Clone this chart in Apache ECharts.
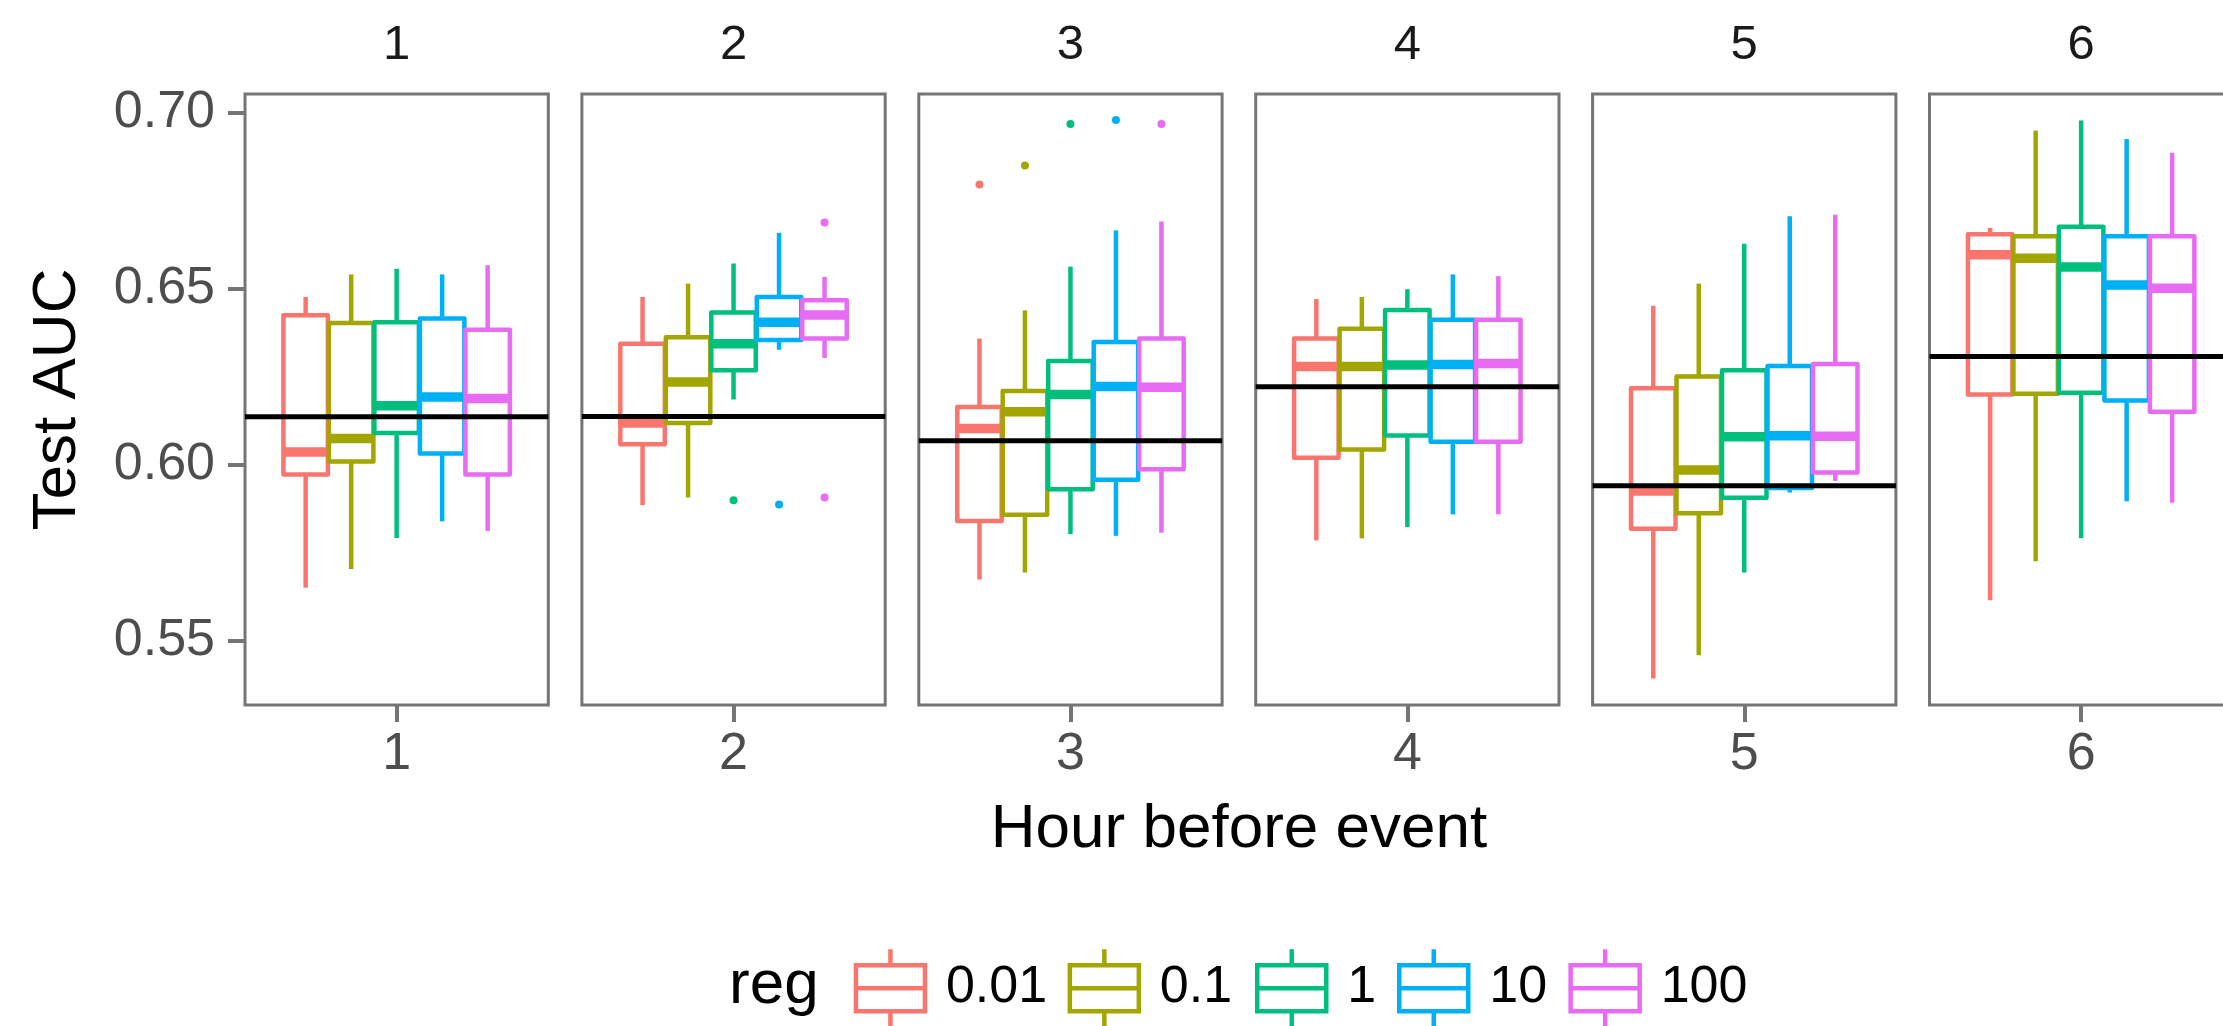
<!DOCTYPE html>
<html>
<head>
<meta charset="utf-8">
<script src="https://cdn.jsdelivr.net/npm/echarts@6/dist/echarts.min.js"></script>
<style>
  html, body { margin: 0; padding: 0; background: #ffffff; }
  #chart { width: 2223px; height: 1026px; }
</style>
</head>
<body>
<div id="chart"></div>
<script>
// ---------------- data ----------------
const hours = ['1', '2', '3', '4', '5', '6'];
const regs = ['0.01', '0.1', '1', '10', '100'];
const regColors = ['#F8766D', '#A3A500', '#00BF7D', '#00B0F6', '#E76BF3'];
const yTicks = [0.55, 0.60, 0.65, 0.70];

// rows = hour before event, columns = reg
const lowerWhisker = [
  [0.5651, 0.5704, 0.5792, 0.5839, 0.5812],
  [0.5885, 0.5907, 0.6185, 0.6326, 0.6303],
  [0.5674, 0.5694, 0.5803, 0.5798, 0.5807],
  [0.5785, 0.5791, 0.5823, 0.5859, 0.5859],
  [0.5393, 0.5459, 0.5694, 0.5921, 0.5954],
  [0.5615, 0.5726, 0.5791, 0.5896, 0.5892]
];
const lowerHinge = [
  [0.5972, 0.6009, 0.6090, 0.6032, 0.5972],
  [0.6058, 0.6118, 0.6268, 0.6354, 0.6358],
  [0.5840, 0.5858, 0.5930, 0.5957, 0.5987],
  [0.6020, 0.6043, 0.6083, 0.6065, 0.6065],
  [0.5818, 0.5862, 0.5906, 0.5934, 0.5978],
  [0.6199, 0.6201, 0.6204, 0.6182, 0.6150]
];
const medians = [
  [0.6036, 0.6074, 0.6167, 0.6192, 0.6188],
  [0.6118, 0.6235, 0.6343, 0.6404, 0.6425],
  [0.6103, 0.6150, 0.6199, 0.6222, 0.6220],
  [0.6279, 0.6279, 0.6283, 0.6284, 0.6287],
  [0.5925, 0.5985, 0.6079, 0.6082, 0.6081],
  [0.6596, 0.6586, 0.6561, 0.6510, 0.6501]
];
const upperHinge = [
  [0.6424, 0.6402, 0.6404, 0.6415, 0.6383],
  [0.6343, 0.6362, 0.6432, 0.6476, 0.6467],
  [0.6164, 0.6209, 0.6294, 0.6348, 0.6358],
  [0.6358, 0.6386, 0.6439, 0.6411, 0.6411],
  [0.6217, 0.6250, 0.6268, 0.6280, 0.6286],
  [0.6654, 0.6648, 0.6675, 0.6648, 0.6648]
];
const upperWhisker = [
  [0.6476, 0.6540, 0.6556, 0.6540, 0.6566],
  [0.6476, 0.6514, 0.6571, 0.6658, 0.6533],
  [0.6358, 0.6438, 0.6562, 0.6665, 0.6690],
  [0.6470, 0.6476, 0.6498, 0.6540, 0.6535],
  [0.6451, 0.6514, 0.6627, 0.6705, 0.6709],
  [0.6672, 0.6948, 0.6977, 0.6924, 0.6885]
];
// outliers: hour index, reg index, value
const outlierHour  = [1, 1, 1, 1, 2, 2, 2, 2, 2];
const outlierReg   = [2, 3, 4, 4, 0, 1, 2, 3, 4];
const outlierValue = [0.5899, 0.5887, 0.6687, 0.5907, 0.6795, 0.6849, 0.6967, 0.6978, 0.6967];
// horizontal reference line per hour
const baselineAUC = [0.6136, 0.6137, 0.6068, 0.6221, 0.5940, 0.6307];

// ---------------- layout / style ----------------
const FONT = '"Liberation Sans", Arial, Helvetica, sans-serif';
const GRAY = '#757575';
const PANEL_LEFT0 = 245, PANEL_STEP = 336.9, PANEL_W = 303.3, PANEL_TOP = 94, PANEL_H = 611;
const Y_MIN = 0.5318, Y_MAX = 0.7052;

const grids = [], xAxes = [], yAxes = [], series = [];

function boxRenderer(h, r) {
  return function (params, api) {
    const band = api.size([1, 0])[0];
    const unit = band / 1.2;
    const base = api.coord([api.value(0), api.value(3)]);
    const cx = base[0] + (r - 2) * 0.18 * unit;
    const hw = 0.088 * unit;
    const yMin = api.coord([0, api.value(1)])[1];
    const yQ1 = api.coord([0, api.value(2)])[1];
    const yMed = base[1];
    const yQ3 = api.coord([0, api.value(4)])[1];
    const yMax = api.coord([0, api.value(5)])[1];
    const c = regColors[r];
    const children = [
      { type: 'line', shape: { x1: cx, y1: yQ3, x2: cx, y2: yMax }, style: { stroke: c, lineWidth: 4.5 } },
      { type: 'line', shape: { x1: cx, y1: yQ1, x2: cx, y2: yMin }, style: { stroke: c, lineWidth: 4.5 } },
      { type: 'rect', shape: { x: cx - hw, y: yQ3, width: 2 * hw, height: yQ1 - yQ3 },
        style: { fill: '#ffffff', stroke: c, lineWidth: 4.5, lineJoin: 'round' } },
      { type: 'line', shape: { x1: cx - hw, y1: yMed, x2: cx + hw, y2: yMed }, style: { stroke: c, lineWidth: 9.5 } }
    ];
    for (let k = 0; k < outlierValue.length; k++) {
      if (outlierHour[k] === h && outlierReg[k] === r) {
        const p = api.coord([0, outlierValue[k]]);
        children.push({ type: 'circle', shape: { cx: cx, cy: p[1], r: 4 }, style: { fill: c } });
      }
    }
    return { type: 'group', children: children };
  };
}

function baselineRenderer(params, api) {
  const cs = params.coordSys;
  const y = api.coord([0, api.value(1)])[1];
  return { type: 'line', shape: { x1: cs.x, y1: y, x2: cs.x + cs.width, y2: y },
           style: { stroke: '#000000', lineWidth: 5 } };
}

hours.forEach(function (hr, h) {
  grids.push({
    left: PANEL_LEFT0 + h * PANEL_STEP, top: PANEL_TOP, width: PANEL_W, height: PANEL_H,
    show: true, borderColor: GRAY, borderWidth: 3, backgroundColor: 'transparent',
    containLabel: false, outerBoundsMode: 'none'
  });
  xAxes.push({
    gridIndex: h, type: 'category', data: [hr], boundaryGap: true, position: 'bottom',
    axisLine: { show: false },
    axisTick: { show: true, alignWithLabel: true, length: 17, lineStyle: { color: GRAY, width: 4 } },
    axisLabel: { show: true, margin: 24, fontSize: 52, color: '#4d4d4d', fontFamily: FONT },
    splitLine: { show: false }
  });
  xAxes.push({
    gridIndex: h, type: 'category', data: [hr], boundaryGap: true, position: 'top',
    axisLine: { show: false }, axisTick: { show: false },
    axisLabel: { show: true, margin: 24, fontSize: 49, color: '#1a1a1a', fontFamily: FONT },
    splitLine: { show: false }
  });
  const first = h === 0;
  yAxes.push({
    gridIndex: h, type: 'value', min: Y_MIN, max: Y_MAX,
    axisLine: { show: false }, splitLine: { show: false },
    axisTick: { show: first, customValues: yTicks, length: 17, lineStyle: { color: GRAY, width: 4 } },
    axisLabel: { show: first, customValues: yTicks, margin: 30, fontSize: 52, color: '#4d4d4d',
                 fontFamily: FONT, formatter: function (v) { return v.toFixed(2); } }
  });
  regs.forEach(function (rg, r) {
    series.push({
      type: 'custom', name: rg, xAxisIndex: 2 * h, yAxisIndex: h,
      itemStyle: { color: regColors[r] },
      encode: { x: 0, y: [1, 2, 3, 4, 5] },
      data: [[0, lowerWhisker[h][r], lowerHinge[h][r], medians[h][r], upperHinge[h][r], upperWhisker[h][r]]],
      renderItem: boxRenderer(h, r), z: 2
    });
  });
  series.push({
    type: 'custom', name: 'baseline', xAxisIndex: 2 * h, yAxisIndex: h,
    encode: { x: 0, y: 1 }, data: [[0, baselineAUC[h]]],
    renderItem: baselineRenderer, z: 5, silent: true
  });
});

const keyIcon = 'path://M34.5,0L34.5,16M0,16L69,16L69,62L0,62ZM0,39L69,39M34.5,62L34.5,77';
const legendLefts = [853.7, 1067.6, 1255, 1397, 1568.4];
const legends = regs.map(function (rg, r) {
  return {
    left: legendLefts[r], top: 947, orient: 'horizontal', padding: 0,
    itemWidth: 69, itemHeight: 77, selectedMode: false,
    textStyle: { fontSize: 52, color: '#000000', fontFamily: FONT, padding: [0, 0, 0, 16] },
    data: [{ name: rg, icon: keyIcon,
             itemStyle: { color: '#ffffff', borderColor: regColors[r], borderWidth: 4.5 } }]
  };
});

const option = {
  backgroundColor: '#ffffff',
  animation: false,
  grid: grids,
  xAxis: xAxes,
  yAxis: yAxes,
  legend: legends,
  series: series,
  graphic: [
    { type: 'text', x: 58, y: 399.5, rotation: Math.PI / 2,
      style: { text: 'Test AUC', fontSize: 62, fontFamily: FONT, fill: '#000000',
               textAlign: 'center', textVerticalAlign: 'middle' } },
    { type: 'text', x: 1239, y: 830,
      style: { text: 'Hour before event', fontSize: 62, fontFamily: FONT, fill: '#000000',
               textAlign: 'center', textVerticalAlign: 'middle' } },
    { type: 'text', x: 729, y: 985.5,
      style: { text: 'reg', fontSize: 62, fontFamily: FONT, fill: '#000000',
               textAlign: 'left', textVerticalAlign: 'middle' } }
  ]
};

const chart = echarts.init(document.getElementById('chart'), null, { renderer: 'canvas' });
chart.setOption(option);
</script>
</body>
</html>
